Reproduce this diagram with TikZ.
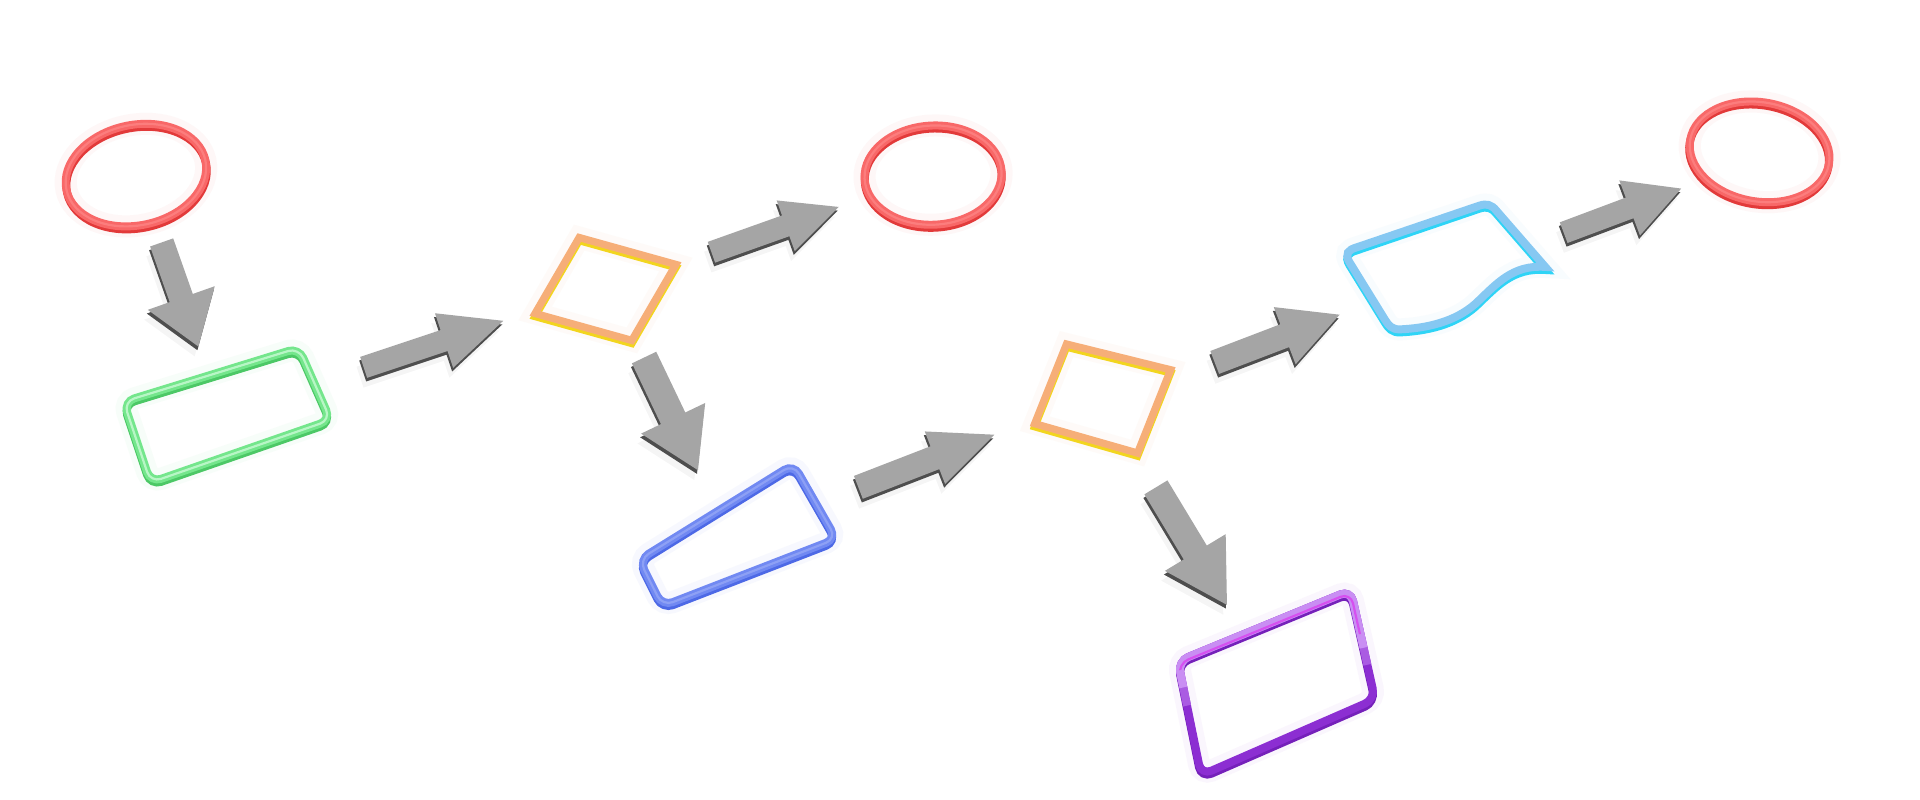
\documentclass[tikz,border=0pt]{standalone}
\usetikzlibrary{calc}
\definecolor{redtop}{HTML}{F86868}
\definecolor{redside}{HTML}{E23A3A}
\definecolor{redhi}{HTML}{FF8C8C}
\definecolor{greentop}{HTML}{74E68C}
\definecolor{greenside}{HTML}{4CC866}
\definecolor{greenhi}{HTML}{B8F6C6}
\definecolor{orangetop}{HTML}{F6AE78}
\definecolor{orangeside}{HTML}{F2D51E}
\definecolor{bluetop}{HTML}{7189F2}
\definecolor{blueside}{HTML}{4D69E6}
\definecolor{bluehi}{HTML}{A9B8F8}
\definecolor{cyantop}{HTML}{86C8F2}
\definecolor{cyanside}{HTML}{2ED4F6}
\definecolor{purplelight}{HTML}{C98EF3}
\definecolor{purplemid}{HTML}{AA5CE2}
\definecolor{purpledark}{HTML}{8C2ED2}
\definecolor{purpleside}{HTML}{7520BA}
\definecolor{purplehi}{HTML}{D650F0}
\definecolor{arrowgray}{HTML}{A5A5A5}
\definecolor{arrowdark}{HTML}{4E4E4E}
\tikzset{
  glow/.style={draw=#1, line width=18pt, opacity=0.05},
  ringside/.style={draw=#1, line width=6.5pt, yshift=-2.5pt},
  ringtop/.style={draw=#1, line width=6.5pt},
  ringhi/.style={draw=#1, line width=1.8pt},
}
\newcommand\blockarrow[5]{%
  \coordinate (ba-h) at ($(#2)!#5pt!(#1)$);
  \coordinate (ba-t1) at ($(#1)!#3pt!90:(#2)$);
  \coordinate (ba-t2) at ($(#1)!#3pt!-90:(#2)$);
  \coordinate (ba-j1) at ($(ba-h)!#3pt!90:(#2)$);
  \coordinate (ba-j2) at ($(ba-h)!#3pt!-90:(#2)$);
  \coordinate (ba-d1) at ($(ba-h)!#4pt!90:(#2)$);
  \coordinate (ba-d2) at ($(ba-h)!#4pt!-90:(#2)$);
  \fill[black, opacity=0.04, transform canvas={yshift=-8pt, xshift=-3pt}] (ba-t1) -- (ba-j1) -- (ba-d1) -- (#2) -- (ba-d2) -- (ba-j2) -- (ba-t2) -- cycle;
  \fill[arrowdark, transform canvas={yshift=-3pt, xshift=-0.8pt}] (ba-t1) -- (ba-j1) -- (ba-d1) -- (#2) -- (ba-d2) -- (ba-j2) -- (ba-t2) -- cycle;
  \fill[arrowgray] (ba-t1) -- (ba-j1) -- (ba-d1) -- (#2) -- (ba-d2) -- (ba-j2) -- (ba-t2) -- cycle;
}
\newcommand\docpath{(1262,218) .. controls (1235,216) and (1222,232) .. (1205,248) .. controls (1188,263) and (1165,268) .. (1143,269) .. controls (1137,269) and (1134,266) .. (1131,261) -- (1102,214) .. controls (1098,207) and (1101,204) .. (1108,202) -- (1208,168) .. controls (1214,166) and (1218,167) .. (1222,172) -- cycle}
\newcommand\purplepath{(1103,482) -- (1123,571) -- (981,633) -- (962,540) -- cycle}
\begin{document}
\begin{tikzpicture}[x=1pt, y=-1pt]
\useasboundingbox[fill=white] (0,0) rectangle (1568,653);

% ---------- red circle A ----------
\begin{scope}[rotate around={12:(111,143)}]
  \draw[glow=redtop] (111,143) ellipse [x radius=58, y radius=41];
  \draw[ringside=redside] (111,143) ellipse [x radius=58, y radius=41];
  \draw[ringtop=redtop] (111,143) ellipse [x radius=58, y radius=41];
  \draw[ringhi=redhi, opacity=0.6] (111,143) ellipse [x radius=58, y radius=41];
\end{scope}

% ---------- red circle D ----------
\begin{scope}[rotate around={3:(762,143)}]
  \draw[glow=redtop] (762,143) ellipse [x radius=56, y radius=40.5];
  \draw[ringside=redside] (762,143) ellipse [x radius=56, y radius=40.5];
  \draw[ringtop=redtop] (762,143) ellipse [x radius=56, y radius=40.5];
  \draw[ringhi=redhi, opacity=0.6] (762,143) ellipse [x radius=56, y radius=40.5];
\end{scope}

% ---------- red circle H ----------
\begin{scope}[rotate around={-10:(1437,124)}]
  \draw[glow=redtop] (1437,124) ellipse [x radius=57.5, y radius=40.5];
  \draw[ringside=redside] (1437,124) ellipse [x radius=57.5, y radius=40.5];
  \draw[ringtop=redtop] (1437,124) ellipse [x radius=57.5, y radius=40.5];
  \draw[ringhi=redhi, opacity=0.6] (1437,124) ellipse [x radius=57.5, y radius=40.5];
\end{scope}

% ---------- green rectangle B ----------
\begin{scope}[rounded corners=9pt]
  \draw[glow=greentop] (101,328) -- (244,284) -- (270,343) -- (123,394) -- cycle;
  \draw[ringside=greenside] (101,328) -- (244,284) -- (270,343) -- (123,394) -- cycle;
  \draw[ringtop=greentop] (101,328) -- (244,284) -- (270,343) -- (123,394) -- cycle;
  \draw[ringhi=greenhi] (101,328) -- (244,284) -- (270,343) -- (123,394) -- cycle;
\end{scope}

% ---------- orange diamond C ----------
\draw[glow=orangetop] (473,194) -- (552,216) -- (516,278) -- (437,256) -- cycle;
\draw[ringside=orangeside, line width=6pt] (473,194) -- (552,216) -- (516,278) -- (437,256) -- cycle;
\draw[ringtop=orangetop, line width=6pt] (473,194) -- (552,216) -- (516,278) -- (437,256) -- cycle;

% ---------- blue trapezoid E ----------
\begin{scope}[rounded corners=9pt]
  \draw[glow=bluetop] (522,457) -- (648,379) -- (683,440) -- (541,495) -- cycle;
  \draw[ringside=blueside] (522,457) -- (648,379) -- (683,440) -- (541,495) -- cycle;
  \draw[ringtop=bluetop] (522,457) -- (648,379) -- (683,440) -- (541,495) -- cycle;
  \draw[ringhi=bluehi, opacity=0.5] (522,457) -- (648,379) -- (683,440) -- (541,495) -- cycle;
\end{scope}

% ---------- orange diamond F ----------
\draw[glow=orangetop] (871,281) -- (956,302) -- (929,370) -- (845,346) -- cycle;
\draw[ringside=orangeside, line width=6pt] (871,281) -- (956,302) -- (929,370) -- (845,346) -- cycle;
\draw[ringtop=orangetop, line width=6pt] (871,281) -- (956,302) -- (929,370) -- (845,346) -- cycle;

% ---------- cyan document G ----------
\draw[glow=cyantop] \docpath;
\draw[ringside=cyanside] \docpath;
\draw[ringtop=cyantop] \docpath;

% ---------- purple parallelogram I ----------
\begin{scope}[rounded corners=9pt]
  \draw[glow=purplemid] \purplepath;
  \draw[ringside=purpleside] \purplepath;
  \draw[ringtop=purpledark] \purplepath;
  \begin{scope}
    \clip (900,400) -- (1200,400) -- (1200,524) -- (900,592) -- cycle;
    \draw[ringtop=purplemid] \purplepath;
  \end{scope}
  \begin{scope}
    \clip (900,400) -- (1200,400) -- (1200,510) -- (900,576) -- cycle;
    \draw[ringtop=purplelight] \purplepath;
  \end{scope}
  \begin{scope}
    \clip (900,400) -- (1200,400) -- (1200,500) -- (900,560) -- cycle;
    \draw[ringhi=purplehi, yshift=-2pt] \purplepath;
  \end{scope}
\end{scope}

% ---------- arrows ----------
\coordinate (a1s) at (132,198);   \coordinate (a1e) at (162,283);
\coordinate (a2s) at (297,300);   \coordinate (a2e) at (411,262);
\coordinate (a3s) at (581,206);   \coordinate (a3e) at (685,169);
\coordinate (a4s) at (526,292);   \coordinate (a4e) at (570,384);
\coordinate (a5s) at (701,398);   \coordinate (a5e) at (812,355);
\coordinate (a6s) at (992,296);   \coordinate (a6e) at (1094,257);
\coordinate (a7s) at (1277,190);  \coordinate (a7e) at (1373,154);
\coordinate (a8s) at (944,398);   \coordinate (a8e) at (1002,494);

\blockarrow{a1s}{a1e}{10}{29}{42}
\blockarrow{a2s}{a2e}{9}{23.5}{51}
\blockarrow{a3s}{a3e}{9}{22}{46}
\blockarrow{a4s}{a4e}{11}{29}{47}
\blockarrow{a5s}{a5e}{10}{23}{52}
\blockarrow{a6s}{a6e}{10}{25}{48}
\blockarrow{a7s}{a7e}{9}{24}{45}
\blockarrow{a8s}{a8e}{11}{29}{50}
\end{tikzpicture}
\end{document}
